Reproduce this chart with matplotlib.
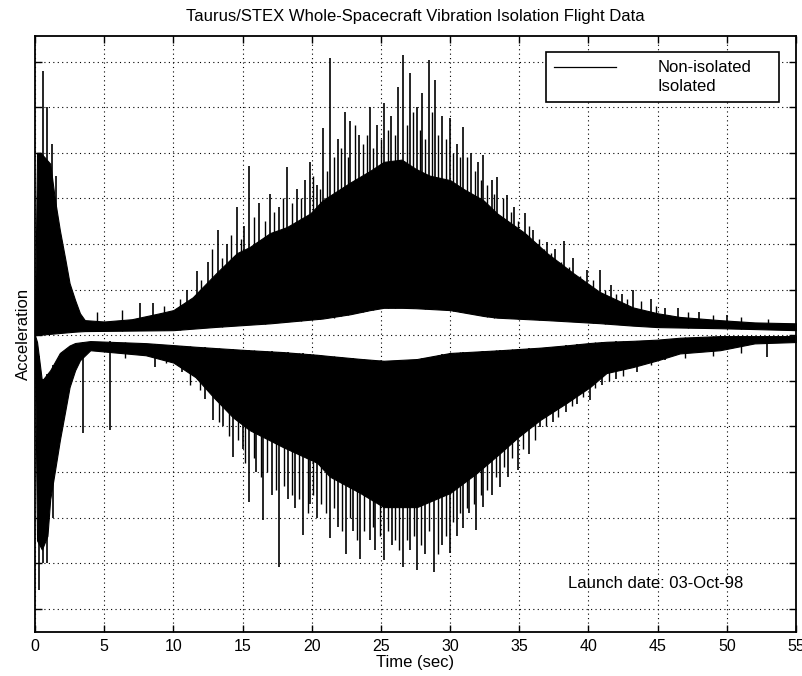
import numpy as np
import matplotlib
matplotlib.use("Agg")
import matplotlib.pyplot as plt
from matplotlib.lines import Line2D

plt.rcParams['font.family'] = ['Liberation Sans', 'DejaVu Sans']

# ---- data (arbitrary acceleration units, grid = 1 unit) ----
# non-isolated trace (plotted above the zero line): dense band edges
up_t = [0, 0.15, 0.4, 0.7, 1.1, 1.45, 1.8, 2.2, 2.5, 2.9, 3.25, 3.6, 5, 7, 9, 10,
        11.4, 13.1, 14.6, 15.5, 17, 18.2, 19.9, 20.8, 22.8, 24.2, 25.2, 26.5, 27.5,
        28.5, 30, 31, 32.4, 33.4, 35.4, 37, 38.9, 40.8, 43.2, 45, 46.6, 49.5, 52, 55]
up_outer = [0.3, 4.0, 4.0, 3.9, 3.76, 2.96, 2.30, 1.65, 1.14, 0.77, 0.48, 0.33, 0.30,
            0.35, 0.48, 0.55, 0.83, 1.36, 1.80, 1.93, 2.24, 2.37, 2.67, 2.96, 3.35,
            3.60, 3.80, 3.85, 3.65, 3.50, 3.40, 3.20, 2.96, 2.67, 2.24, 1.80, 1.36,
            0.95, 0.61, 0.48, 0.40, 0.33, 0.28, 0.26]
up_in_t = [0, 3.0, 3.6, 10, 13, 17, 21.7, 25, 27, 30, 33, 37, 41, 44.5, 50, 55]
up_inner = [0.0, 0.08, 0.09, 0.11, 0.18, 0.26, 0.39, 0.60, 0.60, 0.55, 0.39, 0.33,
            0.26, 0.18, 0.15, 0.11]
# tallest peaks
up_pk_t = [0.55, 0.85, 1.2, 1.5, 7.6, 8.5, 11.0, 11.7, 12.5, 13.2, 13.9, 14.6, 15.1,
           15.5, 16.2, 17.0, 17.6, 18.2, 18.9, 19.5, 19.9, 20.4, 20.8, 21.3, 21.9,
           22.4, 22.8, 23.4, 24.2, 24.7, 25.2, 25.7, 26.2, 26.6, 27.1, 27.6, 28.0,
           28.5, 28.9, 29.4, 30.0, 30.5, 30.9, 31.5, 32.0, 32.4, 33.0, 33.4, 34.1,
           34.6, 35.4, 36.0, 37.0, 37.6, 38.2, 38.9, 39.9, 40.8, 41.6, 42.4, 43.2,
           44.5, 45.5, 46.5, 48.0, 50.0]
up_pk_v = [5.8, 5.0, 4.2, 3.5, 0.7, 0.7, 1.0, 1.4, 1.6, 2.3, 2.0, 2.8, 2.4,
           3.7, 2.9, 3.1, 2.8, 3.68, 3.2, 3.4, 3.8, 3.3, 4.55, 6.07, 4.3,
           4.9, 4.7, 4.4, 5.0, 4.6, 5.1, 4.8, 5.44, 6.14, 5.74, 5.0, 5.3,
           6.03, 5.6, 4.8, 4.76, 4.2, 4.56, 4.0, 3.8, 3.95, 3.4, 3.46, 3.07,
           2.8, 2.67, 2.3, 2.04, 1.9, 2.06, 1.7, 1.43, 1.43, 1.1, 0.9, 0.99,
           0.8, 0.6, 0.6, 0.5, 0.45]
# smaller peaks along the band edge
up_mn_t = [4.5, 6.3, 9.3, 10.5, 12.0, 12.8, 13.5, 14.2, 14.9, 15.8, 16.6, 17.3, 17.9,
           18.6, 19.2, 20.1, 20.6, 21.1, 21.6, 22.1, 22.6, 23.1, 23.7, 24.0, 24.4,
           25.0, 25.5, 26.0, 26.9, 27.3, 27.8, 28.2, 28.7, 29.1, 29.7, 30.2, 30.7,
           31.2, 31.8, 32.2, 32.7, 33.2, 33.8, 34.4, 34.9, 35.7, 36.4, 36.8, 37.3,
           38.0, 38.6, 39.4, 40.3, 41.2, 42.0, 42.8, 43.8, 44.9, 47.2, 49.0, 51.0,
           53.0]
up_mn_v = [0.5, 0.55, 0.65, 0.8, 1.2, 1.9, 1.7, 2.2, 2.1, 2.6, 2.5, 2.7, 3.0,
           2.9, 3.0, 3.5, 3.2, 3.6, 3.9, 4.1, 3.9, 4.6, 4.2, 4.4, 4.1,
           4.3, 4.5, 4.4, 4.6, 4.9, 4.5, 4.3, 4.9, 4.4, 4.3, 4.0, 3.9,
           3.9, 3.6, 3.4, 3.3, 3.1, 3.0, 2.7, 2.5, 2.4, 2.1, 1.9, 1.8,
           1.6, 1.5, 1.3, 1.2, 1.0, 0.9, 0.8, 0.75, 0.65, 0.5, 0.45, 0.4,
           0.35]

# isolated trace (plotted below the zero line)
lo_t = [0, 0.15, 0.5, 0.9, 1.1, 1.45, 1.8, 2.2, 2.5, 2.9, 3.25, 4, 8, 10, 11.6, 12.9,
        14.3, 15.5, 17.9, 20.4, 21.3, 23.5, 25.2, 27.6, 30, 31.9, 33.6, 34.9, 36.5,
        38.4, 40.1, 41.3, 43.2, 45, 46.6, 49.5, 52, 55]
lo_outer = [-0.3, -4.5, -4.7, -4.4, -3.6, -2.96, -2.30, -1.64, -1.14, -0.77, -0.55,
            -0.33, -0.44, -0.60, -0.92, -1.36, -1.80, -2.08, -2.45, -2.80, -3.10,
            -3.46, -3.77, -3.77, -3.46, -3.03, -2.59, -2.24, -1.86, -1.49, -1.14,
            -0.83, -0.70, -0.55, -0.40, -0.33, -0.18, -0.15]
lo_in_t = [0, 0.2, 0.5, 1.1, 1.8, 2.7, 4.5, 8.3, 11.9, 15.5, 19.1, 22.7, 26.4, 30,
           33.6, 37.2, 40.8, 44.5, 48, 55]
lo_inner = [0.0, -0.2, -1.0, -0.77, -0.39, -0.18, -0.11, -0.18, -0.26, -0.33, -0.39,
            -0.50, -0.59, -0.39, -0.33, -0.26, -0.15, -0.11, -0.02, -0.02]
lo_pk_t = [0.3, 0.6, 0.9, 1.3, 3.5, 5.4, 8.7, 10.6, 12.3, 12.9, 13.6, 14.3, 15.0,
           15.5, 16.0, 16.5, 17.1, 17.6, 18.3, 18.8, 19.4, 19.9, 20.4, 21.3, 21.9,
           22.5, 23.0, 23.5, 24.2, 24.6, 25.2, 25.8, 26.6, 27.1, 27.6, 28.2, 28.8,
           29.4, 30.0, 30.5, 30.9, 31.4, 31.9, 32.4, 33.0, 33.6, 34.2, 34.9, 35.7,
           36.5, 37.4, 38.4, 39.2, 40.1, 41.0, 42.0, 43.5, 45.5, 52.9]
lo_pk_v = [-5.59, -5.0, -5.0, -4.0, -2.15, -2.08, -0.7, -0.8, -1.4, -1.86, -2.0,
           -2.67, -2.5, -3.66, -3.0, -4.06, -3.5, -5.09, -3.6, -3.8, -4.39, -3.7,
           -4.0, -4.45, -4.2, -4.8, -4.3, -4.9, -4.5, -4.7, -4.93, -4.6, -5.09,
           -4.7, -5.15, -4.8, -5.2, -4.6, -4.78, -4.4, -4.23, -3.9, -4.27, -3.77,
           -3.5, -3.33, -3.1, -2.96, -2.6, -2.02, -1.9, -1.69, -1.5, -1.43, -1.1,
           -0.95, -0.8, -0.55, -0.48]
lo_mn_t = [6.5, 9.5, 11.2, 11.9, 13.3, 14.0, 14.7, 15.2, 15.8, 16.3, 16.8, 17.4, 18.0,
           18.6, 19.1, 19.7, 20.1, 20.7, 21.0, 21.6, 22.2, 22.8, 23.3, 23.8, 24.4,
           24.9, 25.5, 26.0, 26.3, 26.9, 27.4, 27.9, 28.5, 29.1, 29.7, 30.2, 30.7,
           31.2, 31.7, 32.2, 32.7, 33.3, 33.9, 34.5, 35.3, 36.1, 36.9, 37.8, 38.8,
           39.6, 40.5, 41.5, 42.5, 44.5, 47.0, 49.0, 51.0]
lo_mn_v = [-0.5, -0.6, -1.1, -1.2, -1.9, -2.2, -2.3, -2.8, -2.7, -3.1, -3.0, -3.4,
           -3.3, -3.5, -3.6, -3.9, -3.5, -3.7, -3.9, -3.8, -4.3, -4.0, -4.5, -4.3,
           -4.2, -4.4, -4.3, -4.5, -4.7, -4.5, -4.4, -4.6, -4.3, -4.8, -4.4, -4.1,
           -3.9, -3.8, -3.7, -3.5, -3.4, -3.1, -2.9, -2.7, -2.5, -2.3, -2.0, -1.8,
           -1.55, -1.35, -1.15, -1.0, -0.9, -0.65, -0.5, -0.45, -0.4]

xticks = np.arange(0, 56, 5)
yticks = np.arange(-6, 7, 1)

fig = plt.figure(figsize=(8.02, 6.76), dpi=100)
ax = fig.add_axes([0.0436, 0.065, 0.949, 0.8817])

# dense bands
ax.fill_between(up_t, np.interp(up_t, up_in_t, up_inner), up_outer,
                color='black', lw=0.8, zorder=3)
ax.fill_between(lo_t, np.interp(lo_t, lo_in_t, lo_inner), lo_outer,
                color='black', lw=0.8, zorder=3)
# individual peaks
ax.vlines(up_pk_t, np.interp(up_pk_t, up_in_t, up_inner), up_pk_v,
          color='black', lw=1.2, zorder=3)
ax.vlines(up_mn_t, np.interp(up_mn_t, up_in_t, up_inner), up_mn_v,
          color='black', lw=1.0, zorder=3)
ax.vlines(lo_pk_t, np.interp(lo_pk_t, lo_in_t, lo_inner), lo_pk_v,
          color='black', lw=1.2, zorder=3)
ax.vlines(lo_mn_t, np.interp(lo_mn_t, lo_in_t, lo_inner), lo_mn_v,
          color='black', lw=1.0, zorder=3)

ax.set_xlim(0, 55)
ax.set_ylim(-6.51, 6.56)
ax.set_xticks(xticks)
ax.set_yticks(yticks)
ax.set_yticklabels([])
ax.tick_params(direction='in', top=True, right=True, length=5, width=1,
               labelsize=11.5, pad=5)
ax.grid(True, color='black', linestyle=(0, (1, 3)), linewidth=0.8)
ax.set_axisbelow(True)
for s in ax.spines.values():
    s.set_linewidth(1.3)

ax.set_title('Taurus/STEX Whole-Spacecraft Vibration Isolation Flight Data',
             fontsize=12, pad=11)
ax.set_xlabel('Time (sec)', fontsize=12, labelpad=1)
ax.set_ylabel('Acceleration', fontsize=12, labelpad=-2)

ax.text(0.93, 0.082, 'Launch date: 03-Oct-98', transform=ax.transAxes,
        ha='right', va='center', fontsize=12)

handles = [Line2D([], [], color='black', lw=0.9),
           Line2D([], [], color='white', lw=0.9)]
leg = ax.legend(handles, ['Non-isolated', 'Isolated'],
                bbox_to_anchor=(0.6715, 0.886, 0.306, 0.087), loc='upper left',
                mode='expand', borderaxespad=0, fancybox=False, framealpha=1,
                edgecolor='black', fontsize=12, handlelength=3.7,
                handletextpad=2.5, labelspacing=0.2, borderpad=0.5)
leg.get_frame().set_linewidth(1.2)
leg.set_zorder(5)

fig.savefig('out.png', dpi=100)
